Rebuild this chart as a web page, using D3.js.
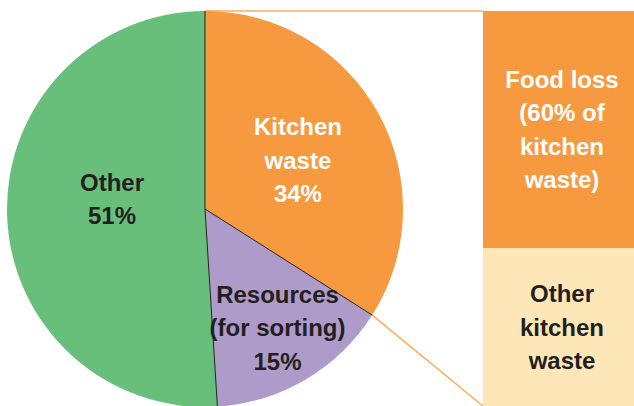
<!DOCTYPE html>
<html>
<head>
<meta charset="utf-8">
<script src="https://cdn.jsdelivr.net/npm/d3@7"></script>
<style>
    html, body { margin: 0; padding: 0; background: #fff; }
    svg { display: block; font-family: "Liberation Sans", Arial, sans-serif; font-weight: bold; }
</style>
</head>
<body>
<div id="chart"></div>
<script>
// pie: share of household waste
const sliceNames = ["Kitchen waste", "Resources (for sorting)", "Other"];
const sliceValues = [34, 15, 51];
const sliceLabels = [["Kitchen", "waste", "34%"], ["Resources", "(for sorting)", "15%"], ["Other", "51%"]];

// breakdown bar of kitchen waste
const barNames = ["Other kitchen waste", "Food loss"];
const barValues = [40, 60];
const barLabels = [["Other", "kitchen", "waste"], ["Food loss", "(60% of", "kitchen", "waste)"]];

const sliceColors = ["#f6993f", "#ae9bc9", "#67bf7b"];
const sliceTextColors = ["#ffffff", "#231f20", "#231f20"];
const barColors = ["#fde7b8", "#f6993f"];
const barTextColors = ["#231f20", "#ffffff"];

const width = 634, height = 406;
const cx = 205, cy = 209, radius = 198;
const lineH = 33.5, baseOff = 8.5;

const svg = d3.select("#chart").append("svg")
    .attr("width", width)
    .attr("height", height);

const pie = d3.pie().sort(null).value(d => d);
const arcs = pie(sliceValues);
const arc = d3.arc().innerRadius(0).outerRadius(radius);

// bar scales
const xScale = d3.scaleBand().domain(["Kitchen waste"]).range([483, 643]).padding(0);
const yScale = d3.scaleLinear().domain([0, 100]).range([406, 11]);
const stacked = d3.stack().keys(d3.range(barValues.length))([barValues]);

// connector lines (drawn first, under the pie)
const kitchenArc = arcs[0];
const pTop = d3.pointRadial(kitchenArc.startAngle, radius);
const pEnd = d3.pointRadial(kitchenArc.endAngle, radius);
const connG = svg.append("g").attr("class", "connectors")
    .attr("stroke", "#f8ae5a")
    .attr("stroke-width", 1.5);
connG.append("line")
    .attr("x1", cx + pTop[0]).attr("y1", yScale(100))
    .attr("x2", xScale("Kitchen waste")).attr("y2", yScale(100));
connG.append("line")
    .attr("x1", cx + pEnd[0]).attr("y1", cy + pEnd[1])
    .attr("x2", xScale("Kitchen waste")).attr("y2", yScale(0));

// pie slices
const pieG = svg.append("g")
    .attr("transform", `translate(${cx},${cy})`);

pieG.selectAll(".slice")
    .data(arcs)
    .join("path")
    .attr("class", "slice")
    .attr("d", arc)
    .attr("fill", (d, i) => sliceColors[i]);

// thin separators between slices
pieG.selectAll(".sep")
    .data(arcs)
    .join("line")
    .attr("class", "sep")
    .attr("x1", 0).attr("y1", 0)
    .attr("x2", d => d3.pointRadial(d.startAngle, radius)[0])
    .attr("y2", d => d3.pointRadial(d.startAngle, radius)[1])
    .attr("stroke", "#231f20")
    .attr("stroke-width", 1);

// slice labels
const labelRadius = [0.53, 0.69, 0.47];
const labelNudge = [[1, 2], [3, 1], [0, -13]];
pieG.selectAll(".slice-label")
    .data(arcs)
    .join("text")
    .attr("class", "slice-label")
    .attr("text-anchor", "middle")
    .attr("font-size", 24)
    .attr("fill", (d, i) => sliceTextColors[i])
    .each(function (d, i) {
        const mid = (d.startAngle + d.endAngle) / 2;
        const [lx, ly] = d3.pointRadial(mid, radius * labelRadius[i]);
        const lines = sliceLabels[i];
        d3.select(this).selectAll("tspan")
            .data(lines)
            .join("tspan")
            .attr("x", lx + labelNudge[i][0])
            .attr("y", (t, j) => ly + labelNudge[i][1] + (j - (lines.length - 1) / 2) * lineH + baseOff)
            .text(t => t);
    });

// stacked breakdown bar
const barG = svg.append("g").attr("class", "bar");
barG.selectAll(".seg")
    .data(stacked)
    .join("rect")
    .attr("class", "seg")
    .attr("x", xScale("Kitchen waste"))
    .attr("width", xScale.bandwidth())
    .attr("y", d => yScale(d[0][1]))
    .attr("height", d => yScale(d[0][0]) - yScale(d[0][1]))
    .attr("fill", (d, i) => barColors[i]);

barG.selectAll(".seg-label")
    .data(stacked)
    .join("text")
    .attr("class", "seg-label")
    .attr("text-anchor", "middle")
    .attr("font-size", 24)
    .attr("fill", (d, i) => barTextColors[i])
    .each(function (d, i) {
        const mx = xScale("Kitchen waste") + xScale.bandwidth() / 2 - 1;
        const my = (yScale(d[0][0]) + yScale(d[0][1])) / 2;
        const lines = barLabels[i];
        d3.select(this).selectAll("tspan")
            .data(lines)
            .join("tspan")
            .attr("x", mx)
            .attr("y", (t, j) => my + (j - (lines.length - 1) / 2) * lineH + baseOff)
            .text(t => t);
    });
</script>
</body>
</html>
